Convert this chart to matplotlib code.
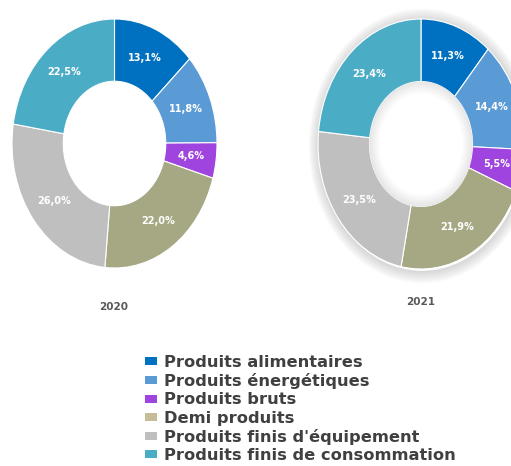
import matplotlib
matplotlib.use('Agg')
import matplotlib.pyplot as plt
from matplotlib.patches import Patch, Wedge
import numpy as np

categories = ['Produits alimentaires', 'Produits énergétiques', 'Produits bruts',
              'Demi produits', "Produits finis d'équipement",
              'Produits finis de consommation']
share_2020 = [13.1, 11.8, 4.6, 22.0, 26.0, 22.5]
share_2021 = [11.3, 14.4, 5.5, 21.9, 23.5, 23.4]
years = ['2020', '2021']

colors = ['#0070C0', '#5B9BD5', '#A044E0', '#A5A883', '#BFBFBF', '#4BACC6']
legend_colors = ['#0070C0', '#5B9BD5', '#A044E0', '#C4BD97', '#BFBFBF', '#4BACC6']

W, H = 511, 466
fig = plt.figure(figsize=(W / 100, H / 100), dpi=100)
PAD = 1.12


def px_axes(x0, y0, x1, y1):
    # pixel box of the ring (top-left origin), padded so the glow is not clipped
    cx, cy = (x0 + x1) / 2, (y0 + y1) / 2
    hw, hh = (x1 - x0) / 2 * PAD, (y1 - y0) / 2 * PAD
    return fig.add_axes([(cx - hw) / W, 1 - (cy + hh) / H, 2 * hw / W, 2 * hh / H])


def donut(ax, values, shadow=False):
    if shadow:
        for k in range(9):
            ax.add_patch(Wedge((0.01, -0.015), 1 + 0.011 * (k + 1), 0, 360,
                               width=0.011 * (k + 1), color='0.45', alpha=0.03,
                               lw=0, zorder=0))
    wedges, _ = ax.pie(values, colors=colors, startangle=90, counterclock=False,
                       radius=1.0, wedgeprops=dict(width=0.5, edgecolor='white', lw=0.8))
    for w in wedges:
        w.set_zorder(1)
    if shadow:
        for k in range(8):
            ax.add_patch(Wedge((0, 0), 0.5, 0, 360, width=0.012 * (k + 1),
                               color='0.5', alpha=0.025, lw=0, zorder=2))
    ang = 90.0
    for v in values:
        mid = np.radians(ang - v * 3.6 / 2)
        ax.text(0.75 * np.cos(mid), 0.75 * np.sin(mid),
                '{:.1f}%'.format(v).replace('.', ','),
                ha='center', va='center', color='white', fontsize=7, fontweight='bold',
                zorder=4)
        ang -= v * 3.6
    ax.set_aspect('auto')
    ax.set_xlim(-PAD, PAD)
    ax.set_ylim(-PAD, PAD)
    ax.axis('off')


ax1 = px_axes(12, 19, 217, 268)
donut(ax1, share_2020)
ax2 = px_axes(318, 19, 524, 269)
donut(ax2, share_2021, shadow=True)

fig.text(114 / W, 1 - 307 / H, years[0], ha='center', va='center', color='#595959',
         fontsize=7.5, fontweight='bold')
fig.text(421 / W, 1 - 302 / H, years[1], ha='center', va='center', color='#595959',
         fontsize=7.5, fontweight='bold')

handles = [Patch(facecolor=c, edgecolor='none') for c in legend_colors]
leg = fig.legend(handles, categories, loc='upper left',
                 bbox_to_anchor=(145 / W, 1 - 355 / H),
                 frameon=False, borderpad=0, borderaxespad=0, labelspacing=0.2,
                 handlelength=0.75, handleheight=0.38, handletextpad=0.42,
                 prop=dict(size=11.7, weight='bold'), labelcolor='#404040')

fig.savefig('out.png', dpi=100)
